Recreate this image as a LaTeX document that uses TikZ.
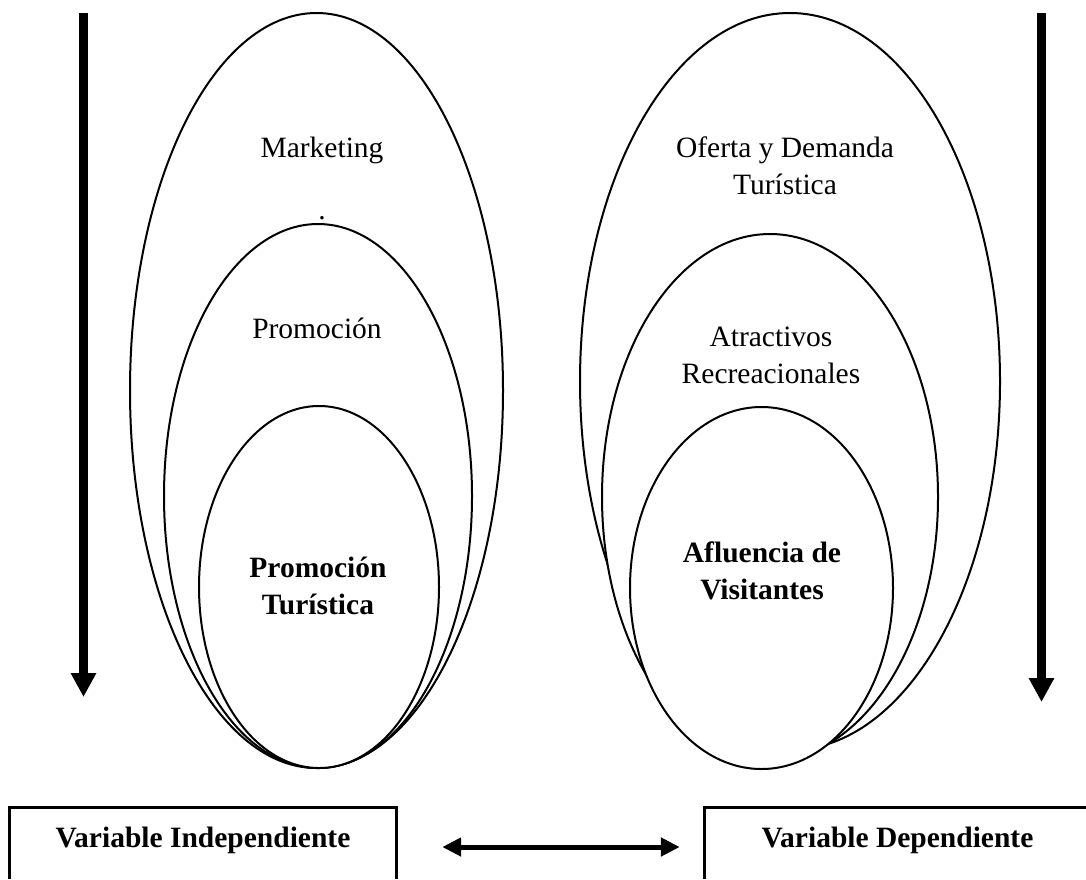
\documentclass[tikz,border=0pt]{standalone}
\usepackage{fontspec}
\setmainfont{Liberation Serif}
\usetikzlibrary{shapes.geometric,arrows.meta}

\tikzset{
	ring/.style={ellipse,draw,fill=white,line width=2pt,inner sep=0pt},
	txt/.style={align=center,font=\fontsize{29.5}{37}\selectfont},
	btxt/.style={align=center,font=\fontsize{29.5}{37}\selectfont\bfseries},
	varbox/.style={btxt,minimum height=64pt,inner sep=0pt},
	boxline/.style={line width=3pt},
	flow/.style={line width=9pt,-{Triangle[length=24pt,width=24pt]}},
	link/.style={line width=5pt,{Triangle[length=19pt,width=18pt]}-{Triangle[length=19pt,width=18pt]}}
}

\begin{document}
\begin{tikzpicture}[x=1pt,y=-1pt]
	\useasboundingbox (0,0) rectangle (1086,879);

	\node[ring,minimum width=373pt,minimum height=755pt] (marketing) at (316.5,390.5) {};
	\node[ring,minimum width=308pt,minimum height=544pt] (promocion) at (318,496) {};
	\node[ring,minimum width=240pt,minimum height=362pt] (promtur) at (319,587) {};

	\node[ring,minimum width=420pt,minimum height=737pt] (oferta) at (790,381.5) {};
	\node[ring,minimum width=336pt,minimum height=526pt] (atractivos) at (770,497) {};
	\node[ring,minimum width=263pt,minimum height=362pt] (afluencia) at (761.5,588) {};

	\node[txt] (mktlbl) at (322,150) {Marketing};
	\node[txt,anchor=base] (dotlbl) at (322,219) {.};
	\node[txt] (promlbl) at (317,328) {Promoción};
	\node[btxt] (ptlbl) at (318,585.5) {Promoción\\Turística};

	\node[txt] (oflbl) at (785,166) {Oferta y Demanda\\Turística};
	\node[txt] (atlbl) at (771,355) {Atractivos\\Recreacionales};
	\node[btxt] (aflbl) at (762,571) {Afluencia de\\Visitantes};

	\coordinate (ltop) at (83.5,13);
	\coordinate (lbot) at (83.5,697);
	\draw[flow] (ltop) -- (lbot);

	\coordinate (rtop) at (1041.5,13);
	\coordinate (rbot) at (1041.5,702);
	\draw[flow] (rtop) -- (rbot);

	\node[varbox,minimum width=386pt] (indep) at (203,840) {Variable Independiente};
	\node[varbox,minimum width=385pt] (dep) at (897.5,840) {Variable Dependiente};

	\draw[boxline] ([yshift=-71pt]indep.north west) -- (indep.north west) -- (indep.north east) -- ([yshift=-71pt]indep.north east);
	\draw[boxline] ([yshift=-71pt]dep.north west) -- (dep.north west) -- (dep.north east) -- ([yshift=-71pt]dep.north east);

	\draw[link,shorten <=46pt,shorten >=25pt] ([yshift=-7pt]indep.east) -- ([yshift=-7pt]dep.west);
\end{tikzpicture}
\end{document}
